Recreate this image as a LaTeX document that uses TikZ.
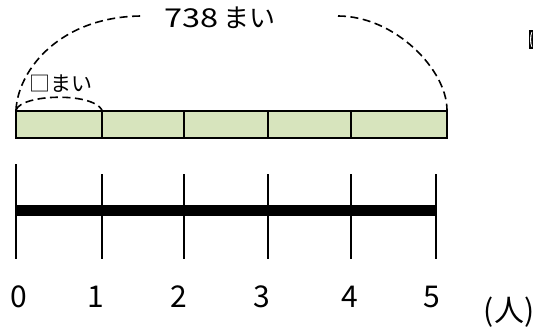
\documentclass[tikz,border=0pt]{standalone}
\usepackage{fontspec}
\newfontfamily\jp{Noto Sans CJK JP}
\definecolor{barfill}{HTML}{D7E4BD}
\begin{document}
\begin{tikzpicture}[x=1pt,y=-1pt,
  cell/.style={draw=black,line width=1.8pt,fill=barfill},
  tick/.style={line width=2pt},
  arcline/.style={line width=1.6pt,dash pattern=on 8pt off 4.5pt},
  numlab/.style={font=\jp\fontsize{30}{30}\selectfont,inner sep=0pt},
  toplab/.style={font=\jp\fontsize{26}{26}\selectfont,inner sep=0pt},
  smalllab/.style={font=\jp\fontsize{21}{21}\selectfont,inner sep=0pt}]
\useasboundingbox (0,0) rectangle (533,329);
% tape
\foreach \a/\b/\n in {16/102/1,102/184/2,184/268/3,268/351/4,351/447/5}
  \path[cell] (\a,111) rectangle (\b,138) node[pos=0.5] (c\n) {};
\coordinate (tl) at (16,110);
\coordinate (tr) at (447,110);
\coordinate (d1) at (102,110);
% big dashed arc
\node[toplab] (total) at (220,18) {\scalebox{1.25}[1]{738}\,まい};
\coordinate (ta) at (143,16);
\coordinate (tb) at (338,16);
\draw[arcline] (tl) .. controls (18,70) and (60,16) .. (ta);
\draw[arcline] (tb) .. controls (395,16) and (447,70) .. (tr);
% small dashed arc
\node[smalllab] (unit) at (61,84) {□まい};
\draw[arcline] (tl) .. controls (22,94) and (92,92) .. (d1);
% number line
\foreach \x/\n in {16/0,102/1,184/2,268/3,351/4,436/5}
  \coordinate (t\n) at (\x,259);
\draw[tick] (16,164) -- (t0);
\foreach \x/\n in {102/1,184/2,268/3,351/4,436/5}
  \draw[tick] (\x,174) -- (t\n);
\draw[line width=11pt] (16,210.5) -- (436,210.5);
% labels
\foreach \x/\n in {19/0,96/1,179/2,262/3,350/4,432/5}
  \node[numlab] (n\n) at (\x,297) {\n};
\node[numlab] (unitlab) at (509,312) {(人)};
% cropped fragment at right edge
\fill[black] (528.5,30) rectangle (533,49);
\fill[white] (531.5,32) .. controls (529.5,36) and (529.5,43) .. (531.5,47) -- (532.2,47) .. controls (530.8,43) and (530.8,36) .. (532.2,32) -- cycle;
\end{tikzpicture}
\end{document}
